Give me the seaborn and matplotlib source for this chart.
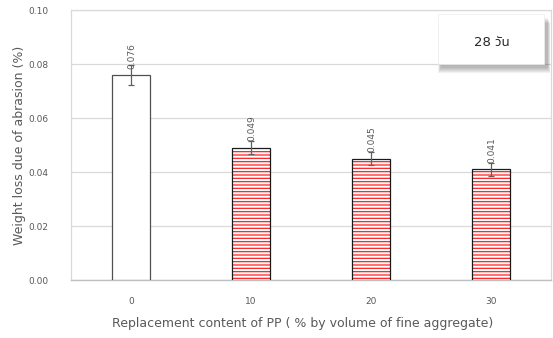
import matplotlib
matplotlib.use("Agg")
import matplotlib.pyplot as plt
from matplotlib import font_manager
from matplotlib.ft2font import FT2Font
from matplotlib.patches import Rectangle
import seaborn as sns
import pandas as pd

categories = ["0", "10", "20", "30"]
values = [0.076, 0.049, 0.045, 0.041]
errors = [0.0038, 0.0025, 0.0023, 0.0023]
labels = ["0.076", "0.049", "0.045", "0.041"]
yticks = [0.00, 0.02, 0.04, 0.06, 0.08, 0.10]
legend_text = "28 วัน"
xlabel = "Replacement content of PP ( % by volume of fine aggregate)"
ylabel = "Weight loss due of abrasion (%)"


def find_thai_family():
    found = []
    for f in font_manager.fontManager.ttflist:
        try:
            cmap = FT2Font(f.fname).get_charmap()
        except Exception:
            continue
        if all(ord(c) in cmap for c in "วัน"):
            found.append(f.name)
    for pref in ["Noto Sans Thai", "Noto Sans Thai UI", "Loma", "Garuda",
                 "Tlwg Typo", "Umpush", "Sawasdee"]:
        if pref in found:
            return pref
    return found[0] if found else None


thai_family = find_thai_family()

sns.set_theme(style="white")
families = ["DejaVu Sans"] + ([thai_family] if thai_family else [])
plt.rcParams["font.family"] = families
plt.rcParams["hatch.linewidth"] = 0.9

df = pd.DataFrame({"cat": categories, "val": values})

W, H = 553, 338
fig = plt.figure(figsize=(W / 100, H / 100), dpi=100)
ax = fig.add_axes([71 / W, 1 - 280 / H, 480 / W, 270 / H])

sns.barplot(data=df, x="cat", y="val", ax=ax, width=0.32, errorbar=None,
            color="white", edgecolor="#404040", linewidth=0.9, zorder=3)

for i, p in enumerate(ax.patches):
    if i == 0:
        p.set_facecolor("white")
        p.set_edgecolor("#505050")
    else:
        p.set_facecolor("white")
        p.set_hatch("-----")
        p.set_edgecolor("#1a1a1a")
        p._hatch_color = matplotlib.colors.to_rgba("#ff2020")

ax.errorbar(range(len(values)), values, yerr=errors, fmt="none",
            ecolor="#606060", elinewidth=0.9, capsize=2.5, capthick=0.9, zorder=4)

for i, (v, lab) in enumerate(zip(values, labels)):
    ax.annotate(lab, (i, v), xytext=(0.5, 4.5), textcoords="offset points",
                rotation=90, ha="center", va="bottom", fontsize=6.5,
                color="#595959", zorder=5)

ax.set_ylim(0, 0.10)
ax.set_xlim(-0.5, 3.5)
ax.set_yticks(yticks)
ax.set_yticklabels([f"{t:.2f}" for t in yticks])
ax.yaxis.grid(True, color="#d9d9d9", linewidth=0.9, zorder=0)
ax.set_axisbelow(True)
ax.tick_params(axis="y", length=0, pad=16, labelsize=6.5, labelcolor="#595959")
ax.tick_params(axis="x", length=0, pad=12.5, labelsize=6.5, labelcolor="#595959")
for s in ["top", "right", "left"]:
    ax.spines[s].set_color("#d9d9d9")
    ax.spines[s].set_linewidth(0.9)
ax.spines["bottom"].set_color("#bfbfbf")
ax.spines["bottom"].set_linewidth(1.0)

ax.set_xlabel("")
ax.set_ylabel("")
fig.text(20 / W, 1 - 145 / H, ylabel, rotation=90, ha="center", va="center",
         fontsize=9, color="#595959")
fig.text(303 / W, 1 - 323 / H, xlabel, ha="center", va="center",
         fontsize=9, color="#595959")

# legend-like text box with soft shadow
bx0, by0, bx1, by1 = 438, 14, 544, 64
for k in range(6, 0, -1):
    sh = Rectangle(((bx0 + 3 - k * 0.5) / W, 1 - (by1 + 3 + k) / H),
                   (bx1 - bx0 + k) / W, (by1 - by0) / H,
                   transform=fig.transFigure, facecolor="#404040",
                   edgecolor="none", alpha=0.07, zorder=9)
    fig.patches.append(sh)
box = Rectangle((bx0 / W, 1 - by1 / H), (bx1 - bx0) / W, (by1 - by0) / H,
                transform=fig.transFigure, facecolor="white",
                edgecolor="#ececec", linewidth=0.5, zorder=10)
fig.patches.append(box)
fig.text(492 / W, 1 - 43 / H, legend_text, ha="center", va="center",
         fontsize=9.5, color="#262626", zorder=11)

fig.savefig("out.png", dpi=100)
